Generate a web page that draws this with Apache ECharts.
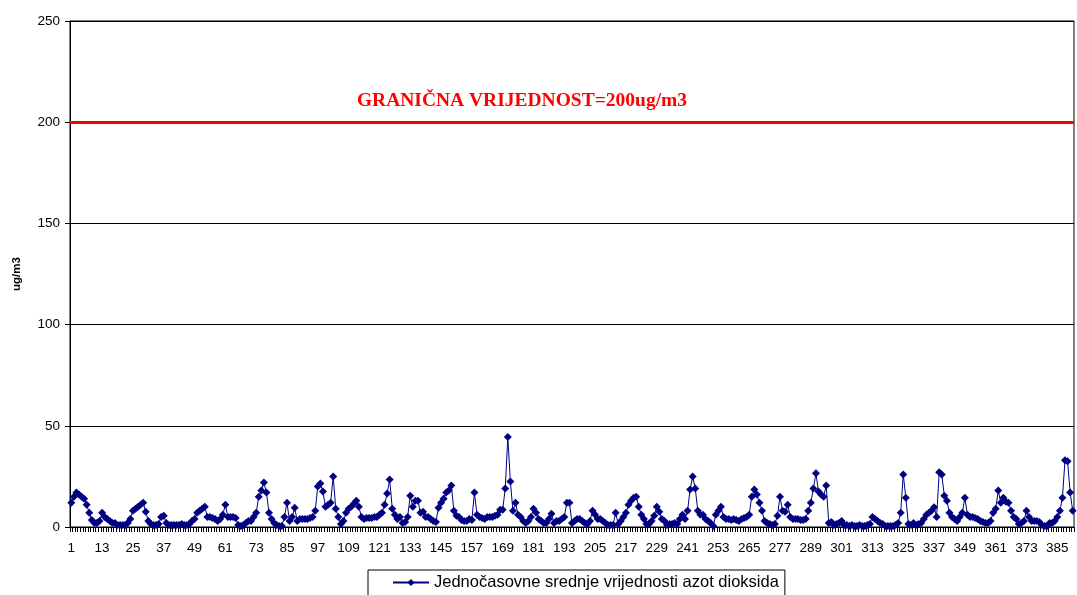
<!DOCTYPE html>
<html>
<head>
<meta charset="utf-8">
<script src="https://cdn.jsdelivr.net/npm/echarts@6/dist/echarts.min.js"></script>
<style>
    html, body { margin: 0; padding: 0; background: #fff; }
    #chart { width: 1077px; height: 595px; }
</style>
</head>
<body>
<div id="chart"></div>
<script>
    // hourly NO2 readings (ug/m3)
    const values = [
        12, 15, 17, 16, 15, 14, 11, 7, 3.5, 2,
        2, 3, 7, 5, 4, 3, 2, 2, 1, 1,
        1, 1, 2, 4, 8, 9, 10, 11, 12, 7.5,
        3, 1.5, 1, 1, 1.5, 5, 5.5, 2, 1, 1,
        1, 1, 1, 1.5, 1, 1, 1.5, 3, 4, 7,
        8, 9, 10, 5, 5, 4.5, 4, 3, 4, 6,
        11, 5, 5, 5, 4.5, 1, 0.5, 1, 2, 3,
        3, 5, 7, 15, 18, 22, 17, 7, 4, 2,
        1, 0.5, 0.5, 5, 12, 3, 5, 9.5, 3, 4,
        4, 4, 4, 4.5, 5, 8, 20, 21.5, 17.5, 10,
        11, 12, 25, 9, 5, 1.5, 3, 7, 9, 10,
        11.5, 13, 10, 5, 4, 4.5, 4.5, 4.5, 5, 5,
        6, 7, 11, 16.5, 23.5, 9, 6, 4, 5, 2,
        2.5, 5, 15.5, 10, 13, 13, 7, 7.5, 5, 5,
        4, 3, 2.5, 9.5, 12, 14, 17, 18, 20.5, 8,
        5.5, 5, 3.5, 3, 3, 4, 3.5, 17, 6, 5,
        4.5, 4, 5, 5, 5, 5.5, 6, 8.5, 8.5, 19,
        44.5, 22.5, 8, 12, 6, 5, 3, 2, 3, 5,
        9, 7, 4, 3, 2, 2, 4, 6.5, 2, 3,
        3, 4, 5, 12, 12, 2, 3, 4, 4, 3,
        2, 1.5, 3, 8, 6, 4, 4, 3, 2, 1,
        1, 1, 7, 1.5, 3, 5, 7, 11, 13, 14.5,
        15, 10, 6, 4, 1.5, 1.5, 3, 5.5, 10, 7.5,
        4, 3, 1, 1.5, 1.5, 2, 1.5, 4, 6, 4,
        8, 18.5, 25, 19, 8, 6, 6, 4, 3, 2,
        0.5, 6, 8, 10, 5, 4, 4, 3.5, 4, 3.5,
        3, 4, 4.5, 5, 6, 15, 18.5, 16, 12, 8,
        3, 2, 1.5, 1, 1.5, 5.5, 15, 8, 7.5, 11,
        5, 4, 4, 4, 3.5, 3.5, 4, 8, 12, 19,
        26.5, 17.5, 16, 15, 20.5, 2, 2.5, 1, 1.5, 2,
        3, 1, 1, 0.5, 1, 0.5, 0.5, 1, 0.5, 0.5,
        1, 1.5, 5, 4, 3, 2, 1.5, 0.5, 0.5, 0.5,
        0.5, 1, 2, 7, 26, 14.5, 1.5, 1, 2, 1,
        1.5, 2, 4, 6, 7, 8, 9.8, 5, 27, 26,
        15.5, 13, 7, 5, 4, 3, 5, 7, 14.5, 6,
        5, 5, 4.5, 4, 3, 2.5, 2, 2, 3, 7,
        9, 18, 12, 14.5, 12.5, 12, 8, 5, 4, 1.5,
        2, 3, 8, 5, 3, 3, 3, 2.5, 1, 0.5,
        0.5, 2, 2, 3, 5, 8, 14.5, 33, 32.5, 17,
        8
    ]
    const categories = values.map((v, i) => String(i + 1))
    const limitValue = 200
    const limitLabel = 'GRANIČNA VRIJEDNOST=200ug/m3'
    const seriesName = 'Jednočasovne srednje vrijednosti azot dioksida'
    const yTicks = { min: 0, max: 250, interval: 50 }

    const chart = echarts.init(document.getElementById('chart'))
    chart.setOption({
        animation: false,
        textStyle: { fontFamily: 'Liberation Sans, Arial, sans-serif' },
        grid: {
            left: 70,
            right: 3,
            top: 21,
            bottom: 68,
            show: true,
            borderColor: '#000',
            borderWidth: 1
        },
        legend: {
            data: [seriesName],
            top: 570,
            left: 368,
            padding: [4, 6, 10, 24],
            borderColor: '#000',
            borderWidth: 1,
            itemWidth: 36,
            itemHeight: 9,
            itemGap: 4,
            textStyle: { fontSize: 16.5, color: '#000' }
        },
        xAxis: {
            type: 'category',
            data: categories,
            boundaryGap: true,
            axisLine: { lineStyle: { color: '#000', width: 1 } },
            axisTick: { show: true, interval: 0, length: 5, lineStyle: { color: '#000' } },
            axisLabel: { interval: 11, color: '#000', fontSize: 13.5, margin: 14 },
            splitLine: { show: false }
        },
        yAxis: {
            type: 'value',
            min: yTicks.min,
            max: yTicks.max,
            interval: yTicks.interval,
            name: 'ug/m3',
            nameLocation: 'middle',
            nameGap: 47,
            nameTextStyle: { fontWeight: 'bold', fontSize: 11.5, color: '#000' },
            axisLine: { show: true, lineStyle: { color: '#000' } },
            axisTick: { show: true, length: 5, lineStyle: { color: '#000' } },
            axisLabel: { color: '#000', fontSize: 13.5, margin: 10 },
            splitLine: { show: true, lineStyle: { color: '#000', width: 1 } }
        },
        series: [
            {
                name: seriesName,
                type: 'line',
                data: values,
                symbol: 'diamond',
                symbolSize: 8,
                showAllSymbol: true,
                color: '#000080',
                lineStyle: { color: '#000080', width: 1 },
                itemStyle: { color: '#000080' },
                markLine: {
                    silent: true,
                    symbol: 'none',
                    lineStyle: { color: '#ff0000', width: 3, type: 'solid' },
                    label: {
                        show: true,
                        position: 'insideMiddleTop',
                        formatter: limitLabel,
                        offset: [-50, -6],
                        color: '#ff0000',
                        fontFamily: 'Liberation Serif, Times New Roman, serif',
                        fontWeight: 'bold',
                        fontSize: 19.5
                    },
                    data: [{ yAxis: limitValue }]
                }
            }
        ]
    })
</script>
</body>
</html>
